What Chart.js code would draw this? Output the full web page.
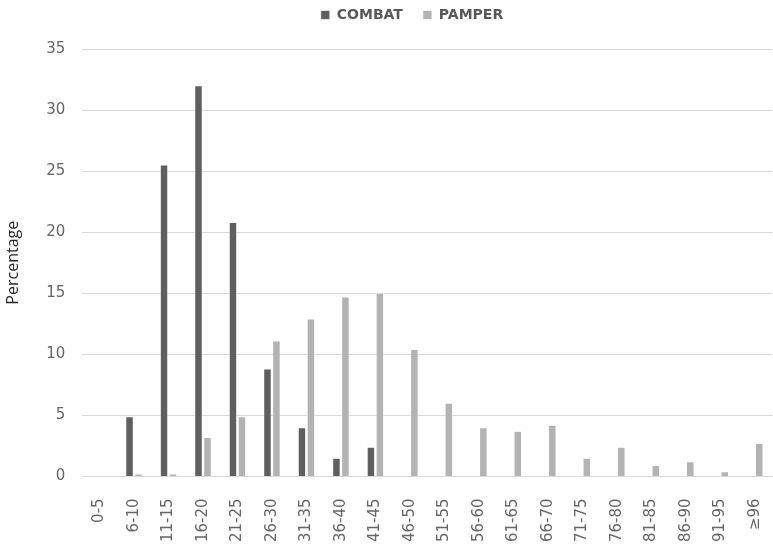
<!DOCTYPE html>
<html>
<head>
<meta charset="utf-8">
<script src="https://cdn.jsdelivr.net/npm/chart.js@4/dist/chart.umd.min.js"></script>
<style>
  html, body { margin: 0; padding: 0; background: #fff; }
  #wrap { width: 773px; height: 544px; }
</style>
</head>
<body>
<div id="wrap"><canvas id="grafica"></canvas></div>
<script>
// --- Datos ---
const rangos = ['0-5', '6-10', '11-15', '16-20', '21-25', '26-30', '31-35', '36-40', '41-45', '46-50',
  '51-55', '56-60', '61-65', '66-70', '71-75', '76-80', '81-85', '86-90', '91-95', '≥96'];
const combat = [0, 4.9, 25.5, 32, 20.8, 8.8, 4.0, 1.5, 2.4, 0, 0, 0, 0, 0, 0, 0, 0, 0, 0, 0];
const pamper = [0, 0.2, 0.2, 3.2, 4.9, 11.1, 12.9, 14.7, 15.0, 10.4, 6.0, 4.0, 3.7, 4.2, 1.5, 2.4, 0.9, 1.2, 0.4, 2.7];
const ticksY = [0, 5, 10, 15, 20, 25, 30, 35];

const fuenteEjes = "'DejaVu Sans', sans-serif";
const fuenteTitulo = "'Open Sans', sans-serif";

// --- Leyenda: espacio extra debajo y corrida a la derecha ---
const ajusteLeyenda = {
  id: 'ajusteLeyenda',
  beforeInit(chart) {
    const fitOriginal = chart.legend.fit;
    chart.legend.fit = function () {
      fitOriginal.bind(chart.legend)();
      this.height += 17;
    };
  },
  afterLayout(chart) {
    chart.legend.left += 26;
    chart.legend.right += 26;
  }
};

new Chart(document.getElementById('grafica'), {
  type: 'bar',
  data: {
    labels: rangos,
    datasets: [
      { label: 'COMBAT', data: combat, backgroundColor: '#5f5f5f', borderColor: '#ffffff', borderWidth: 0.6 },
      { label: 'PAMPER', data: pamper, backgroundColor: '#b3b3b3', borderColor: '#ffffff', borderWidth: 0.6 }
    ]
  },
  options: {
    responsive: true,
    maintainAspectRatio: false,
    animation: false,
    layout: { padding: { left: 0, right: 1, top: -12, bottom: -12 } },
    categoryPercentage: 0.52,
    barPercentage: 0.86,
    plugins: {
      legend: {
        position: 'top',
        labels: {
          boxWidth: 9, boxHeight: 9, padding: 20,
          color: '#595959',
          font: { family: fuenteEjes, size: 14, weight: 'bold' }
        }
      },
      tooltip: { enabled: false }
    },
    scales: {
      x: {
        grid: { display: false },
        border: { color: '#d9d9d9', width: 1 },
        afterFit: (eje) => { eje.paddingRight = 0; eje.paddingLeft = 0; },
        ticks: {
          minRotation: 90, maxRotation: 90, autoSkip: false,
          color: '#666666', padding: 14,
          font: { family: fuenteEjes, size: 15 }
        }
      },
      y: {
        min: 0, max: 35,
        afterBuildTicks: (eje) => { eje.ticks = ticksY.map(v => ({ value: v })); },
        grid: { color: '#d9d9d9', drawTicks: false },
        border: { display: false },
        ticks: { color: '#666666', padding: 17, font: { family: fuenteEjes, size: 15 } },
        title: {
          display: true, text: 'Percentage', color: '#262626',
          font: { family: fuenteTitulo, size: 16 }, padding: { bottom: 6 }
        }
      }
    }
  },
  plugins: [ajusteLeyenda]
});
</script>
</body>
</html>
